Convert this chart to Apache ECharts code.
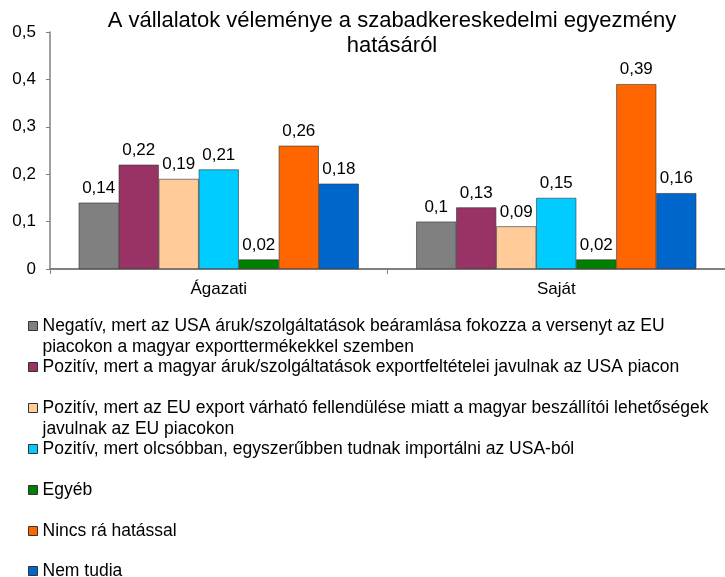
<!DOCTYPE html>
<html>
<head>
<meta charset="utf-8">
<script src="https://cdn.jsdelivr.net/npm/echarts@6/dist/echarts.min.js"></script>
<style>
  html, body { margin: 0; padding: 0; background: #fff; }
  #chart { width: 725px; height: 577px; }
</style>
</head>
<body>
<div id="chart"></div>
<script>
// kategóriák
const categories = ['Ágazati', 'Saját'];
// sorozatnevek (jelmagyarázat)
const seriesNames = [
    'Negatív, mert az USA áruk/szolgáltatások beáramlása fokozza a versenyt az EU piacokon a magyar exporttermékekkel szemben',
    'Pozitív, mert a magyar áruk/szolgáltatások exportfeltételei javulnak az USA piacon',
    'Pozitív, mert az EU export várható fellendülése miatt a magyar beszállítói lehetőségek javulnak az EU piacokon',
    'Pozitív, mert olcsóbban, egyszerűbben tudnak importálni az USA-ból',
    'Egyéb',
    'Nincs rá hatással',
    'Nem tudia'
];
// értékek kategóriánként
const agazatiValues = [0.14, 0.22, 0.19, 0.21, 0.02, 0.26, 0.18];
const sajatValues = [0.1, 0.13, 0.09, 0.15, 0.02, 0.39, 0.16];
const yTicks = [0, 0.1, 0.2, 0.3, 0.4, 0.5];

const colors = ['#808080', '#993366', '#FFCC99', '#00CCFF', '#008000', '#FF6600', '#0066CC'];
// hol törjön a jelmagyarázat szövege
const breakAfter = {0: 'az EU ', 2: 'lehetőségek '};
const legendCenters = [326, 367, 408, 449, 490, 531, 571];

const font = 'Liberation Sans, Arial, sans-serif';
const comma = v => String(v).replace('.', ',');

let series = [];
let legends = [];
for (let i = 0; i < seriesNames.length; i++) {
    series.push({
        name: seriesNames[i],
        type: 'bar',
        data: [agazatiValues[i], sajatValues[i]],
        barGap: '0%',
        barCategoryGap: '17%',
        itemStyle: { color: colors[i], borderColor: '#333', borderWidth: 0.6 },
        label: {
            show: true,
            position: 'top',
            distance: 6,
            color: '#000',
            fontFamily: font,
            fontSize: 17,
            formatter: p => comma(p.value)
        }
    });
    let twoLines = breakAfter[i] !== undefined;
    // kétsoros tételnél üres első sor, hogy az ikon az első szöveg-sorhoz igazodjon
    legends.push({
        orient: 'vertical',
        left: 28,
        top: twoLines ? legendCenters[i] - 31.5 : legendCenters[i] - 10.5,
        padding: 0,
        icon: 'rect',
        itemWidth: 9,
        itemHeight: 9,
        selectedMode: false,
        itemStyle: { borderColor: '#333', borderWidth: 1 },
        data: [seriesNames[i]],
        formatter: name => {
            let b = breakAfter[i];
            return b ? ' \n' + name.replace(b, b.trim() + '\n') : name;
        },
        textStyle: {
            fontFamily: font,
            fontSize: 17.5,
            lineHeight: 21,
            color: '#000'
        }
    });
}

let myChart = echarts.init(document.getElementById('chart'));
myChart.setOption({
    animation: false,
    title: {
        text: 'A vállalatok véleménye a szabadkereskedelmi egyezmény\nhatásáról',
        left: 392,
        top: 8,
        padding: 0,
        textAlign: 'center',
        textStyle: {
            fontFamily: font,
            fontSize: 22,
            fontWeight: 'normal',
            lineHeight: 25,
            color: '#000'
        }
    },
    legend: legends,
    grid: { left: 50, right: 0, top: 32, bottom: 308, containLabel: false },
    xAxis: {
        type: 'category',
        data: categories,
        axisLine: { lineStyle: { color: '#808080', width: 2 } },
        axisTick: { show: true, length: 5, lineStyle: { color: '#808080' } },
        axisLabel: { color: '#000', fontFamily: font, fontSize: 17, margin: 12 }
    },
    yAxis: {
        type: 'value',
        min: yTicks[0],
        max: yTicks[yTicks.length - 1],
        interval: 0.1,
        splitLine: { show: false },
        axisLine: { show: true, lineStyle: { color: '#808080', width: 1.5 } },
        axisTick: { show: true, length: 4, lineStyle: { color: '#808080' } },
        axisLabel: { color: '#000', fontFamily: font, fontSize: 17, margin: 14, formatter: v => comma(v) }
    },
    series: series
});
</script>
</body>
</html>
